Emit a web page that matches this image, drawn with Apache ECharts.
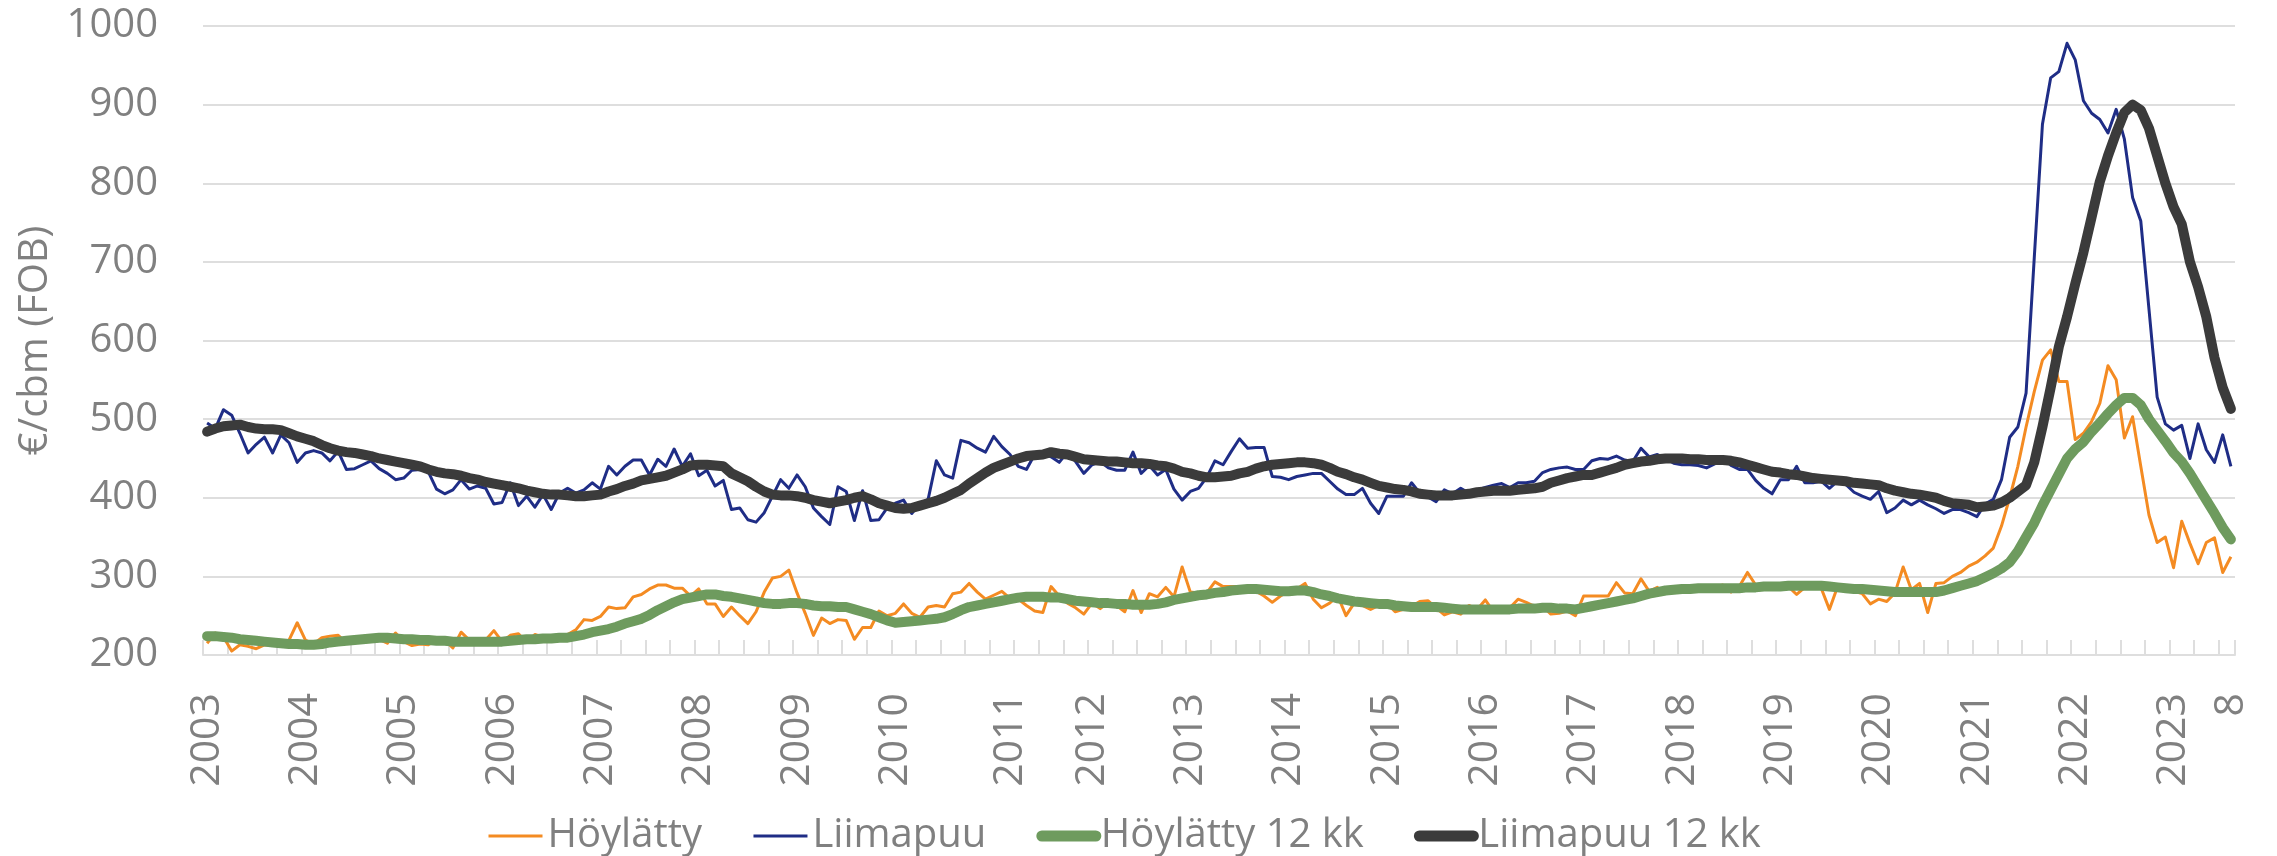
<!DOCTYPE html>
<html><head><meta charset="utf-8">
<script src="https://cdn.jsdelivr.net/npm/echarts@6/dist/echarts.min.js"></script>
<style>html,body{margin:0;padding:0;background:#fff}#c{width:2277px;height:856px}</style>
</head><body><div id="c"></div>
<script>
// ---- categories: monthly, Jan 2003 .. Aug 2023 ----
const firstYear = 2003, lastYear = 2023, lastMonth = 8;
const months = [];
for (let y = firstYear; y <= lastYear; y++) {
  for (let m = 1; m <= 12; m++) {
    if (y === lastYear && m > lastMonth) break;
    months.push(y + '-' + (m < 10 ? '0' + m : m));
  }
}

// ---- tick labels (category index -> text) ----
const tickLabelIndex = [0, 12, 24, 36, 48, 60, 72, 84, 98, 108, 120, 132, 144, 156, 168, 180, 192, 204, 216, 228, 240, 247];
const tickLabelText  = ['2003','2004','2005','2006','2007','2008','2009','2010','2011','2012','2013','2014','2015','2016','2017','2018','2019','2020','2021','2022','2023','8'];

// ---- series values (€/cbm FOB) ----
const hoylatty = [
 215,228,223,205,213,211,208,213,212,213,219,241,
 219,214,222,224,225,216,220,219,220,220,215,228,
 217,212,214,213,219,219,209,229,219,220,219,231,
 217,225,227,216,226,223,223,224,226,232,245,244,
 249,261,259,260,274,277,284,289,289,285,285,275,
 284,265,265,249,261,250,240,255,280,298,300,308,
 279,253,225,247,240,245,244,220,235,235,256,250,
 253,265,253,248,261,263,261,278,280,291,280,271,
 276,281,272,271,263,256,254,287,275,266,260,252,
 266,259,267,263,255,282,254,278,274,286,274,312,
 280,279,279,293,287,287,287,284,281,275,267,275,
 281,284,291,271,260,266,275,250,266,263,258,263,
 266,255,258,262,268,269,260,251,255,252,263,258,
 270,255,260,260,271,267,262,262,252,253,256,250,
 275,275,275,275,292,279,278,297,281,286,279,283,
 280,280,287,284,286,289,280,287,305,289,287,287,
 287,287,277,286,287,285,258,287,284,281,278,265,
 271,268,279,312,283,291,254,291,292,300,305,313,
 318,326,336,364,400,440,490,535,575,588,548,548,
 474,482,497,520,568,550,476,503,440,378,343,350,
 311,370,342,316,343,349,305,325
];
const liimapuu = [
 495,488,512,505,482,457,468,477,457,480,470,445,
 457,460,457,447,459,436,437,442,447,437,431,423,
 425,435,436,433,411,405,410,423,411,415,412,392,
 394,419,390,402,388,404,385,406,412,406,410,419,
 411,440,429,440,448,448,429,449,440,462,440,456,
 428,435,415,422,385,387,372,369,381,402,423,412,
 429,414,387,376,366,414,408,371,409,371,372,387,
 393,397,380,393,398,447,429,425,473,470,463,458,
 478,465,455,440,436,455,457,452,445,458,446,431,
 442,446,438,435,435,458,431,441,429,436,411,397,
 408,412,426,447,442,459,475,463,464,464,427,426,
 423,427,429,431,431,421,411,404,404,412,393,380,
 402,402,402,419,406,401,395,410,405,412,406,410,
 413,416,418,413,419,419,421,432,436,438,439,436,
 436,447,450,449,453,448,446,463,452,455,450,444,
 442,442,441,438,443,452,441,436,436,422,412,405,
 423,423,440,419,419,421,412,421,417,407,402,398,
 408,381,387,397,391,397,391,386,380,385,385,381,
 376,392,398,423,477,490,533,705,875,934,942,978,
 957,905,889,881,864,894,856,782,752,640,528,494,
 486,492,450,494,461,445,480,440
];
const hoylatty12 = [
 224,224,223,222,220,219,218,217,216,215,214,214,
 213,213,214,216,217,218,219,220,221,222,222,221,
 220,220,219,219,218,218,217,217,217,217,217,217,
 217,218,219,220,220,221,221,222,222,224,226,229,
 231,233,236,240,243,246,251,257,262,267,271,273,
 275,277,277,275,274,272,270,268,266,265,265,266,
 266,265,263,262,262,261,261,258,255,252,248,244,
 241,242,243,244,245,246,248,252,257,261,263,265,
 267,269,271,273,274,274,274,273,273,271,269,268,
 267,266,266,265,265,264,264,264,265,267,270,272,
 274,276,277,279,280,282,283,284,284,283,282,281,
 281,282,282,280,277,275,272,270,268,267,266,265,
 265,263,262,261,261,261,261,260,259,258,258,258,
 258,258,258,258,259,259,259,260,260,259,259,258,
 260,262,264,266,268,270,272,275,278,280,282,283,
 284,284,285,285,285,285,285,285,286,286,287,287,
 287,288,288,288,288,288,287,286,285,284,284,283,
 282,281,280,280,280,280,280,280,282,285,288,291,
 294,299,304,310,318,332,350,368,390,410,430,450,
 462,471,484,495,507,518,527,527,518,500,486,472,
 457,446,431,414,397,380,362,347
];
const liimapuu12 = [
 484,488,491,492,493,490,488,487,487,486,482,478,
 475,472,467,463,460,458,457,455,453,450,448,446,
 444,442,440,436,433,431,430,428,425,423,420,418,
 416,414,412,409,407,405,404,404,403,402,402,403,
 404,408,411,415,418,422,424,426,428,432,436,441,
 442,442,441,440,431,426,421,414,408,404,403,403,
 402,400,397,395,393,395,397,400,402,398,393,390,
 387,386,387,390,393,396,400,405,410,418,425,432,
 438,442,446,450,453,454,455,458,456,455,452,449,
 448,447,446,446,445,444,444,443,441,440,437,433,
 431,428,426,426,427,428,431,433,437,440,442,443,
 444,445,445,444,442,438,433,430,426,423,419,415,
 413,411,410,408,405,404,403,403,403,404,405,407,
 408,409,409,409,410,411,412,414,419,422,425,427,
 429,429,432,435,438,442,444,446,447,449,450,450,
 450,449,449,448,448,448,447,445,442,439,436,433,
 432,430,429,427,425,424,423,422,421,419,418,417,
 416,412,409,407,405,404,402,400,396,393,392,391,
 388,389,390,394,400,408,416,445,490,540,592,630,
 672,712,757,802,835,864,890,900,893,870,835,800,
 770,748,700,668,630,578,540,513
];

const seriesNames = ['Höylätty', 'Liimapuu', 'Höylätty 12 kk', 'Liimapuu 12 kk'];
const yTicks = { min: 200, max: 1000, step: 100 };
const yTitle = '€/cbm (FOB)';

const labelMap = {};
tickLabelIndex.forEach((k, j) => { labelMap[k] = tickLabelText[j]; });

const FONT = '"Open Sans", "Noto Sans", sans-serif';
const GRAY = '#808080';
const GRID = '#dedede';

const chart = echarts.init(document.getElementById('c'), null, { renderer: 'canvas' });
chart.setOption({
  animation: false,
  backgroundColor: '#ffffff',
  textStyle: { fontFamily: FONT },
  grid: { left: 203, right: 42, top: 26, bottom: 201, containLabel: false },
  legend: {
    left: 482, top: 811,
    itemWidth: 54, itemHeight: 14, itemGap: 50,
    itemStyle: { opacity: 0 },
    textStyle: { fontSize: 40, color: GRAY, fontFamily: FONT },
    data: [
      { name: seriesNames[0], lineStyle: { width: 3, color: '#F48B22' } },
      { name: seriesNames[1], lineStyle: { width: 3, color: '#1F2D86' } },
      { name: seriesNames[2], lineStyle: { width: 11, color: '#6E9B5E', cap: 'round' } },
      { name: seriesNames[3], lineStyle: { width: 11, color: '#3B3B3B', cap: 'round' } }
    ]
  },
  xAxis: {
    type: 'category',
    data: months,
    boundaryGap: true,
    axisLine: { lineStyle: { color: GRID, width: 2 } },
    axisTick: { show: true, inside: true, length: 15, interval: 2, lineStyle: { color: GRID, width: 2 } },
    axisLabel: {
      rotate: 90, margin: 38, fontSize: 41, color: GRAY, fontFamily: FONT,
      interval: function (idx) { return labelMap[idx] !== undefined; },
      formatter: function (v, idx) { return labelMap[idx] !== undefined ? labelMap[idx] : ''; }
    },
    splitLine: { show: false }
  },
  yAxis: {
    type: 'value',
    min: yTicks.min, max: yTicks.max, interval: yTicks.step,
    name: yTitle, nameLocation: 'middle', nameRotate: 90, nameGap: 138,
    nameTextStyle: { fontSize: 40, color: GRAY, fontFamily: FONT },
    axisLine: { show: false }, axisTick: { show: false },
    axisLabel: { fontSize: 40, color: GRAY, margin: 45, fontFamily: FONT,
      formatter: function (v) { return String(v); } },
    splitLine: { lineStyle: { color: GRID, width: 2 } }
  },
  series: [
    { name: seriesNames[0], type: 'line', data: hoylatty, symbol: 'none',
      lineStyle: { width: 3, color: '#F48B22', join: 'round' }, itemStyle: { color: '#F48B22' }, z: 2 },
    { name: seriesNames[1], type: 'line', data: liimapuu, symbol: 'none',
      lineStyle: { width: 3, color: '#1F2D86', join: 'round' }, itemStyle: { color: '#1F2D86' }, z: 3 },
    { name: seriesNames[2], type: 'line', data: hoylatty12, symbol: 'none',
      lineStyle: { width: 10, color: '#6E9B5E', cap: 'round', join: 'round' }, itemStyle: { color: '#6E9B5E' }, z: 4 },
    { name: seriesNames[3], type: 'line', data: liimapuu12, symbol: 'none',
      lineStyle: { width: 10, color: '#3B3B3B', cap: 'round', join: 'round' }, itemStyle: { color: '#3B3B3B' }, z: 5 }
  ]
});
</script>
</body></html>
